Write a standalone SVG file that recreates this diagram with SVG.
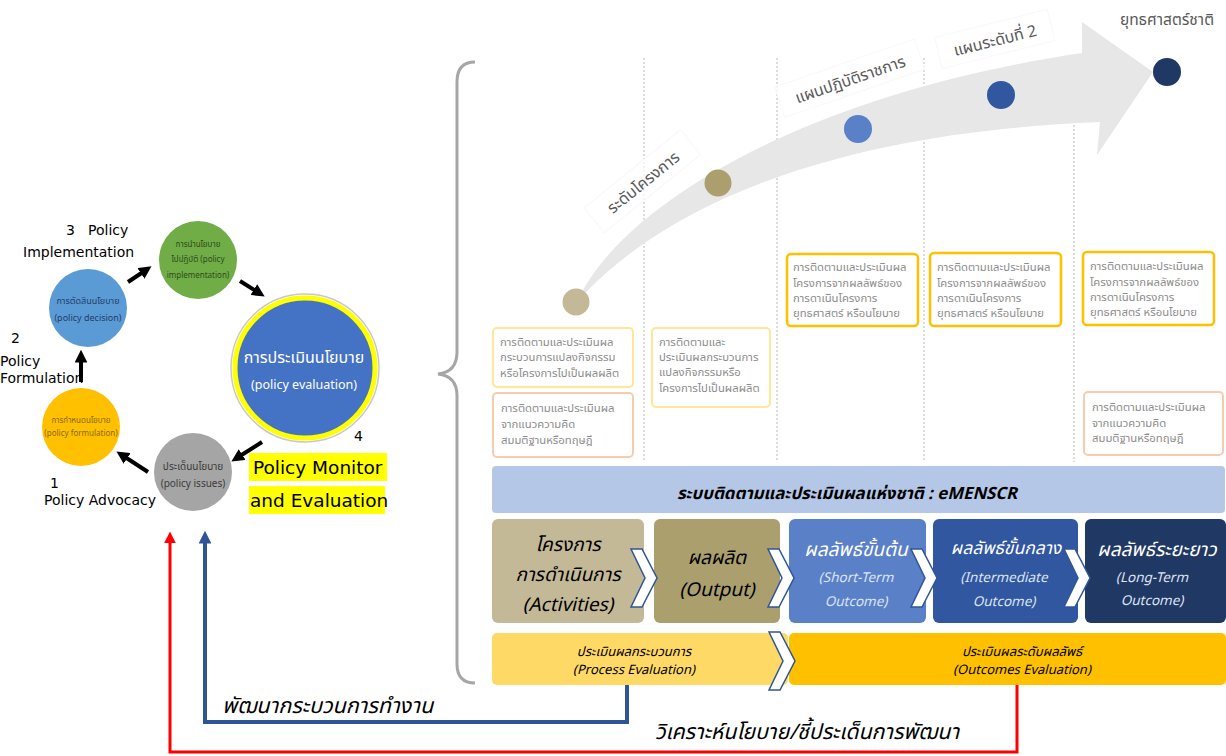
<svg xmlns="http://www.w3.org/2000/svg" width="1226" height="756" viewBox="0 0 1226 756">
<defs>
<style>
.th { font-family: "Noto Sans Thai","Noto Sans","DejaVu Sans","Liberation Sans",sans-serif; }
.en { font-family: "DejaVu Sans","Liberation Sans",sans-serif; }
.gt { font-size: 11.3px; fill: #8c8c8c; }
.by { fill: #ffffff; stroke: #ffe699; stroke-width: 2; }
.bp { fill: #ffffff; stroke: #f8cbad; stroke-width: 2; }
.bg { fill: #ffffff; stroke: #ffc000; stroke-width: 2.5; }
.vl { stroke: #c4c4c4; stroke-width: 1.2; stroke-dasharray: 2 2; fill: none; }
.chev { fill: #ffffff; stroke: #2f5597; stroke-width: 1.5; stroke-linejoin: miter; }
.lbl { font-size: 16px; fill: #595959; }
.lbox { fill: #ffffff; fill-opacity: 0.7; stroke: #f8f8f8; }
.blk { stroke: #000000; stroke-width: 4; fill: none; marker-end: url(#ahk); }
.it { font-style: italic; }
.cap { font-size: 14px; fill: #000000; }
</style>
<marker id="ahk" viewBox="0 0 10 10" refX="2" refY="5" markerWidth="3.2" markerHeight="3.2" orient="auto">
<path d="M0,0 L10,5 L0,10 z" fill="#000000"/>
</marker>
<marker id="ahb" viewBox="0 0 10 10" refX="2" refY="5" markerWidth="3.2" markerHeight="3.2" orient="auto">
<path d="M0,0 L10,5 L0,10 z" fill="#2f5597"/>
</marker>
<marker id="ahr" viewBox="0 0 10 10" refX="2" refY="5" markerWidth="4" markerHeight="4" orient="auto">
<path d="M0,0 L10,5 L0,10 z" fill="#ff0000"/>
</marker>
<path id="chev" d="M0,0 L11,0 L26,29 L11,58 L0,58 L14,29 Z"/>
</defs>

<rect width="1226" height="756" fill="#ffffff"/>

<!-- curly brace -->
<g id="brace">
<path d="M475,62 Q457,62 457,82 L457,352 Q457,372 438,374 Q457,376 457,396 L457,664 Q457,683 475,683" fill="none" stroke="#a6a6a6" stroke-width="3"/>
</g>

<!-- dotted column lines -->
<g id="columns">
<line class="vl" x1="644" y1="58" x2="644" y2="462"/>
<line class="vl" x1="777" y1="58" x2="777" y2="462"/>
<line class="vl" x1="924" y1="58" x2="924" y2="462"/>
<line class="vl" x1="1074" y1="125" x2="1074" y2="462"/>
</g>

<!-- big curved arrow -->
<g id="big-arrow">
<path d="M583,290 C630,205 800,95 1082,53 L1082,22 L1153,72 L1097,155 L1100,122 C900,130 700,175 585,293 Z" fill="#e7e7e7"/>
</g>

<!-- level labels -->
<g id="level-labels">
<g transform="translate(643,182) rotate(-39)">
<rect class="lbox" x="-62" y="-17" width="124" height="32"/>
<text class="th lbl" x="0" y="6" text-anchor="middle">ระดับโครงการ</text>
</g>
<g transform="translate(850,79) rotate(-19)">
<rect class="lbox" x="-74" y="-17" width="148" height="32"/>
<text class="th lbl" x="0" y="6" text-anchor="middle">แผนปฏิบัติราชการ</text>
</g>
<g transform="translate(995,40) rotate(-14)">
<rect class="lbox" x="-58" y="-17" width="116" height="32"/>
<text class="th lbl" x="0" y="6" text-anchor="middle">แผนระดับที่ 2</text>
</g>
<text class="th" x="1167" y="25" text-anchor="middle" font-size="15.5" fill="#595959">ยุทธศาสตร์ชาติ</text>
</g>

<!-- dots -->
<g id="dots">
<circle cx="576" cy="302" r="13.5" fill="#c4b996"/>
<circle cx="718" cy="183" r="13.5" fill="#ab9f6e"/>
<circle cx="858" cy="129" r="14" fill="#5a80c8"/>
<circle cx="1001" cy="95" r="14" fill="#3157a0"/>
<circle cx="1167" cy="72" r="14" fill="#1f3864"/>
</g>

<!-- text boxes -->
<g id="box-process-1">
<rect class="by" x="493" y="328" width="140" height="59" rx="4"/>
<text class="th gt" x="500" y="346">การติดตามและประเมินผล</text>
<text class="th gt" x="500" y="361">กระบวนการแปลงกิจกรรม</text>
<text class="th gt" x="500" y="377">หรือโครงการไปเป็นผลผลิต</text>
</g>
<g id="box-theory-1">
<rect class="bp" x="493" y="393" width="140" height="64" rx="4"/>
<text class="th gt" x="501" y="412">การติดตามและประเมินผล</text>
<text class="th gt" x="501" y="428">จากแนวความคิด</text>
<text class="th gt" x="501" y="444">สมมติฐานหรือทฤษฎี</text>
</g>
<g id="box-process-2">
<rect class="by" x="652" y="328" width="118" height="79" rx="4"/>
<text class="th gt" x="659" y="346">การติดตามและ</text>
<text class="th gt" x="659" y="361">ประเมินผลกระบวนการ</text>
<text class="th gt" x="659" y="376">แปลงกิจกรรมหรือ</text>
<text class="th gt" x="659" y="392">โครงการไปเป็นผลผลิต</text>
</g>
<g id="box-outcome-1">
<rect class="bg" x="787" y="254" width="131" height="72" rx="4"/>
<text class="th gt" x="793" y="271">การติดตามและประเมินผล</text>
<text class="th gt" x="793" y="287">โครงการจากผลลัพธ์ของ</text>
<text class="th gt" x="793" y="302">การดาเนินโครงการ</text>
<text class="th gt" x="793" y="317">ยุทธศาสตร์ หรือนโยบาย</text>
</g>
<g id="box-outcome-2">
<rect class="bg" x="930" y="253" width="131" height="73" rx="4"/>
<text class="th gt" x="937" y="271">การติดตามและประเมินผล</text>
<text class="th gt" x="937" y="287">โครงการจากผลลัพธ์ของ</text>
<text class="th gt" x="937" y="302">การดาเนินโครงการ</text>
<text class="th gt" x="937" y="317">ยุทธศาสตร์ หรือนโยบาย</text>
</g>
<g id="box-outcome-3">
<rect class="bg" x="1083" y="252" width="131" height="73" rx="4"/>
<text class="th gt" x="1090" y="270">การติดตามและประเมินผล</text>
<text class="th gt" x="1090" y="286">โครงการจากผลลัพธ์ของ</text>
<text class="th gt" x="1090" y="301">การดาเนินโครงการ</text>
<text class="th gt" x="1090" y="316">ยุทธศาสตร์ หรือนโยบาย</text>
</g>
<g id="box-theory-2">
<rect class="bp" x="1084" y="392" width="139" height="63" rx="4"/>
<text class="th gt" x="1092" y="411">การติดตามและประเมินผล</text>
<text class="th gt" x="1092" y="427">จากแนวความคิด</text>
<text class="th gt" x="1092" y="442">สมมติฐานหรือทฤษฎี</text>
</g>

<!-- eMENSCR bar -->
<g id="emenscr-bar">
<rect x="492" y="466" width="733" height="47" rx="4" fill="#b4c7e7"/>
<text class="th it" x="847" y="499" text-anchor="middle" font-size="16.8" font-weight="bold" fill="#000000">ระบบติดตามและประเมินผลแห่งชาติ : eMENSCR</text>
</g>

<!-- result chain -->
<g id="activities">
<rect x="492" y="519" width="152" height="104" rx="6" fill="#c4b996"/>
<text class="th it" x="568" y="551" text-anchor="middle" font-size="19" fill="#000000">โครงการ</text>
<text class="th it" x="568" y="581" text-anchor="middle" font-size="19" fill="#000000">การดำเนินการ</text>
<text class="th it" x="568" y="611" text-anchor="middle" font-size="19" fill="#000000">(Activities)</text>
</g>
<g id="output">
<rect x="654" y="519" width="126" height="104" rx="6" fill="#ab9f6e"/>
<text class="th it" x="717" y="564" text-anchor="middle" font-size="19" fill="#000000">ผลผลิต</text>
<text class="th it" x="717" y="596" text-anchor="middle" font-size="19" fill="#000000">(Output)</text>
</g>
<g id="short-term">
<rect x="789" y="519" width="137" height="104" rx="6" fill="#5a80c8"/>
<text class="th it" x="856" y="556" text-anchor="middle" font-size="19" fill="#ffffff">ผลลัพธ์ขั้นต้น</text>
<text class="th it" x="856" y="582" text-anchor="middle" font-size="13.5" fill="#dce4f3">(Short-Term</text>
<text class="th it" x="856" y="606" text-anchor="middle" font-size="13.5" fill="#dce4f3">Outcome)</text>
</g>
<g id="intermediate">
<rect x="933" y="519" width="145" height="104" rx="6" fill="#3157a0"/>
<text class="th it" x="1006" y="554" text-anchor="middle" font-size="17.5" fill="#ffffff">ผลลัพธ์ขั้นกลาง</text>
<text class="th it" x="1004" y="582" text-anchor="middle" font-size="13.5" fill="#dce4f3">(Intermediate</text>
<text class="th it" x="1004" y="606" text-anchor="middle" font-size="13.5" fill="#dce4f3">Outcome)</text>
</g>
<g id="long-term">
<rect x="1085" y="519" width="141" height="104" rx="6" fill="#203864"/>
<text class="th it" x="1157" y="556" text-anchor="middle" font-size="19" fill="#ffffff">ผลลัพธ์ระยะยาว</text>
<text class="th it" x="1152" y="582" text-anchor="middle" font-size="13.5" fill="#dce4f3">(Long-Term</text>
<text class="th it" x="1152" y="605" text-anchor="middle" font-size="13.5" fill="#dce4f3">Outcome)</text>
</g>
<g id="process-eval">
<rect x="492" y="633" width="296" height="52" rx="5" fill="#ffd966"/>
<text class="th it" x="634" y="656" text-anchor="middle" font-size="13" fill="#000000">ประเมินผลกระบวนการ</text>
<text class="th it" x="634" y="674" text-anchor="middle" font-size="13" fill="#000000">(Process Evaluation)</text>
</g>
<g id="outcome-eval">
<rect x="789" y="633" width="437" height="52" rx="5" fill="#ffc000"/>
<text class="th it" x="1022" y="656" text-anchor="middle" font-size="13" fill="#000000">ประเมินผลระดับผลลัพธ์</text>
<text class="th it" x="1022" y="674" text-anchor="middle" font-size="13" fill="#000000">(Outcomes Evaluation)</text>
</g>
<g id="chevrons">
<use href="#chev" class="chev" transform="translate(631,549)"/>
<use href="#chev" class="chev" transform="translate(768,549)"/>
<use href="#chev" class="chev" transform="translate(911,549)"/>
<use href="#chev" class="chev" transform="translate(1064,549)"/>
<use href="#chev" class="chev" transform="translate(769,632)"/>
</g>

<!-- policy cycle -->
<g id="node-issues">
<circle cx="193" cy="472" r="39" fill="#a5a5a5"/>
<text class="th" x="193" y="470" text-anchor="middle" font-size="10" fill="#3a3a3a">ประเด็นนโยบาย</text>
<text class="th" x="193" y="487" text-anchor="middle" font-size="10" fill="#3a3a3a">(policy issues)</text>
</g>
<g id="node-formulation">
<circle cx="81" cy="427" r="39" fill="#ffc000"/>
<text class="th" x="81" y="423" text-anchor="middle" font-size="8" fill="#8a6a10">การกำหนดนโยบาย</text>
<text class="th" x="81" y="436" text-anchor="middle" font-size="8" fill="#8a6a10">(policy formulation)</text>
</g>
<g id="node-decision">
<circle cx="88" cy="308" r="39" fill="#5b9bd5"/>
<text class="th" x="88" y="304" text-anchor="middle" font-size="9" fill="#1f3d6b">การตัดสินนโยบาย</text>
<text class="th" x="88" y="321" text-anchor="middle" font-size="9" fill="#1f3d6b">(policy decision)</text>
</g>
<g id="node-implementation">
<circle cx="198" cy="260" r="39" fill="#70ad47"/>
<text class="th" x="198" y="247" text-anchor="middle" font-size="8" fill="#2d4a1b">การนำนโยบาย</text>
<text class="th" x="198" y="262" text-anchor="middle" font-size="8" fill="#2d4a1b">ไปปฏิบัติ (policy</text>
<text class="th" x="198" y="278" text-anchor="middle" font-size="8" fill="#2d4a1b">implementation)</text>
</g>
<g id="node-evaluation">
<circle cx="305" cy="368" r="74" fill="none" stroke="#c8c8c8" stroke-width="1.5"/>
<circle cx="305" cy="368" r="70" fill="#4472c4" stroke="#ffff00" stroke-width="5"/>
<text class="th" x="304" y="363" text-anchor="middle" font-size="16" fill="#ffffff">การประเมินนโยบาย</text>
<text class="th" x="304" y="389" text-anchor="middle" font-size="12.5" fill="#ffffff">(policy evaluation)</text>
</g>

<!-- cycle captions -->
<g id="captions">
<text class="en cap" x="66" y="235">3</text>
<text class="en cap" x="88" y="235">Policy</text>
<text class="en cap" x="23" y="257">Implementation</text>
<text class="en cap" x="11" y="343">2</text>
<text class="en cap" x="0" y="366">Policy</text>
<text class="en cap" x="0" y="383">Formulation</text>
<text class="en cap" x="50" y="488">1</text>
<text class="en cap" x="44" y="505">Policy Advocacy</text>
<text class="en cap" x="354" y="441">4</text>
<rect x="249" y="453" width="138" height="28" fill="#ffff00"/>
<rect x="249" y="486" width="136" height="28" fill="#ffff00"/>
<text class="en" x="253" y="474" font-size="18.5" fill="#000000">Policy Monitor</text>
<text class="en" x="250" y="507" font-size="18.5" fill="#000000">and Evaluation</text>
</g>

<!-- connectors -->
<g id="connectors">
<line class="blk" x1="148" y1="472" x2="125" y2="457"/>
<line class="blk" x1="81" y1="382" x2="81" y2="360"/>
<line class="blk" x1="128" y1="282" x2="143" y2="272"/>
<line class="blk" x1="240" y1="281" x2="256" y2="291"/>
<line class="blk" x1="262" y1="442" x2="240" y2="456"/>
<polyline points="627,685 627,722 205,722 205,541" fill="none" stroke="#2f5597" stroke-width="4" marker-end="url(#ahb)"/>
<polyline points="1017,685 1017,752 170,752 170,541" fill="none" stroke="#ff0000" stroke-width="3" marker-end="url(#ahr)"/>
<text class="th it" x="222" y="713" font-size="21.5" fill="#000000">พัฒนากระบวนการทำงาน</text>
<text class="th it" x="655" y="739" font-size="21.3" fill="#000000">วิเคราะห์นโยบาย/ชี้ประเด็นการพัฒนา</text>
</g>
</svg>
